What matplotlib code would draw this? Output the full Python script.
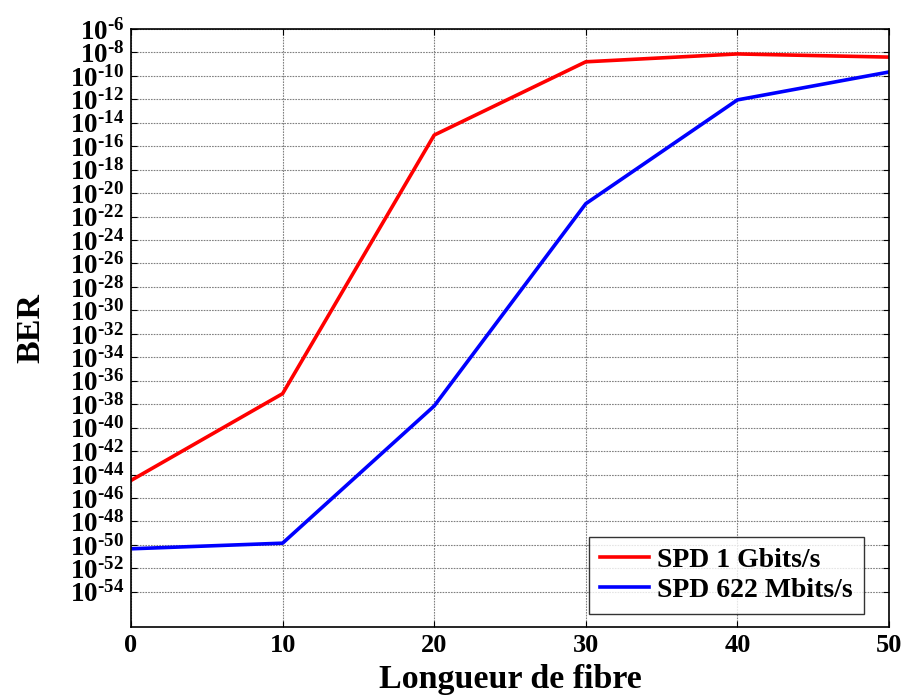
import numpy as np
import matplotlib.pyplot as plt
from matplotlib.ticker import FixedLocator, FuncFormatter, NullLocator

plt.rcParams['font.family'] = 'Liberation Serif'
plt.rcParams['font.weight'] = 'bold'
plt.rcParams['mathtext.fontset'] = 'custom'
plt.rcParams['mathtext.rm'] = 'Liberation Serif:bold'
plt.rcParams['mathtext.bf'] = 'Liberation Serif:bold'
plt.rcParams['mathtext.it'] = 'Liberation Serif:bold'

# fibre length (x) and BER exponents
longueur = [0, 10, 20, 30, 40, 50]
ber_exp_1g = [-44.5, -37.1, -15.05, -8.8, -8.13, -8.4]
ber_exp_622m = [-50.33, -49.85, -38.15, -20.9, -12.05, -9.67]
y_tick_exps = list(range(-6, -55, -2))

ber_1g = 10.0 ** np.array(ber_exp_1g)
ber_622m = 10.0 ** np.array(ber_exp_622m)

fig = plt.figure(figsize=(9.06, 6.98), dpi=100)
ax = fig.add_axes([0.1446, 0.1017, 0.8366, 0.8568])

ax.semilogy(longueur, ber_1g, color='#ff0000', lw=2.6, label='SPD 1 Gbits/s')
ax.semilogy(longueur, ber_622m, color='#0000ff', lw=2.6, label='SPD 622 Mbits/s')

ax.set_xlim(0, 50)
ax.set_ylim(1e-57, 1e-6)
ax.set_xticks([0, 10, 20, 30, 40, 50])
ax.yaxis.set_major_locator(FixedLocator([10.0 ** e for e in y_tick_exps]))
ax.yaxis.set_minor_locator(NullLocator())
ax.yaxis.set_major_formatter(FuncFormatter(
    lambda v, p: r'$10^{\text{%d}}$' % int(round(np.log10(v)))))

ax.tick_params(axis='both', which='both', direction='in', top=True, right=True,
               length=4, width=0.8)
ax.tick_params(axis='y', labelsize=19.5, pad=5)
ax.tick_params(axis='x', labelsize=19, pad=5)
for lab in ax.get_xticklabels():
    lab.set_fontweight('bold')

ax.grid(True, which='major', color='#808080', ls=(0, (1.5, 1)), lw=0.8)
for s in ax.spines.values():
    s.set_linewidth(1.2)

ax.set_xlabel('Longueur de fibre', fontsize=24.5, fontweight='bold', labelpad=5)
ax.set_ylabel('BER', fontsize=24.5, fontweight='bold', labelpad=17)

leg = ax.legend(loc='lower right', bbox_to_anchor=(0.967, 0.022), fontsize=20,
                frameon=True, fancybox=False, edgecolor='black',
                handlelength=1.75, borderpad=0.4, labelspacing=0.15,
                borderaxespad=0, handletextpad=0.3)
leg.get_frame().set_linewidth(1.0)
for t in leg.get_texts():
    t.set_fontweight('bold')

fig.savefig('out.png', dpi=100)
